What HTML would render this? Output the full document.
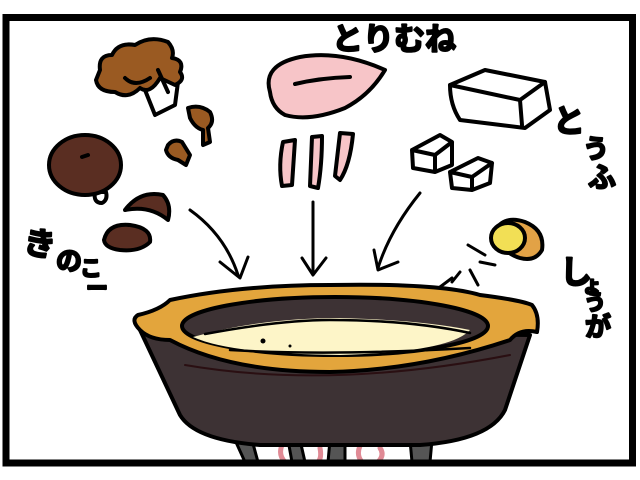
<!DOCTYPE html>
<html><head><meta charset="utf-8"><style>
html,body{margin:0;padding:0;background:#fff;width:640px;height:480px;overflow:hidden}
svg{display:block}
text{font-family:"Liberation Sans","Noto Sans CJK JP",sans-serif;font-weight:bold;fill:#000;stroke:#000;stroke-width:2;stroke-linejoin:round}
</style></head><body>
<svg width="640" height="480" viewBox="0 0 640 480" xmlns="http://www.w3.org/2000/svg">
<rect x="0" y="0" width="640" height="480" fill="#fff"/>
<g stroke="#000" stroke-width="4" stroke-linecap="round" stroke-linejoin="round">
<!-- maitake -->
<path d="M145,90 L155,115 L175,105 L178,82 L165,75 Z" fill="#fff"/>
<path d="M100,70 Q98,55 112,55 Q118,42 135,45 Q150,35 168,42 Q175,50 172,58 Q185,60 180,72 Q186,80 175,85 L160,78 Q150,95 140,88 Q128,100 115,92 Q98,92 96,80 Z" fill="#9a5a22"/>
<path d="M125,78 Q135,88 150,78 M158,70 L168,92" fill="none"/>
<path d="M188,108 Q200,104 210,112 Q215,122 208,128 L210,142 L203,145 L203,130 Q195,128 190,118 Z" fill="#9a5a22"/>
<path d="M168,145 Q174,138 182,142 L190,155 L186,165 L178,160 Q168,158 166,150 Z" fill="#9a5a22"/>
<!-- shiitake -->
<path d="M95,192 Q93,203 102,203 Q108,200 106,192 Z" fill="#fff"/>
<ellipse cx="85" cy="165" rx="36" ry="30" fill="#5a2e22"/>
<path d="M82,157 L88,155" fill="none"/>
<path d="M125,210 Q140,190 163,195 Q172,205 168,220 Q150,205 125,210 Z" fill="#5a2e22"/>
<path d="M104,240 Q108,223 130,225 Q152,228 150,242 Q140,252 120,250 Q105,248 104,240 Z" fill="#5a2e22"/>
<!-- chicken -->
<path d="M270,92 Q262,65 300,57 Q340,50 385,70 Q370,95 345,108 Q310,122 285,115 Q272,108 270,92 Z" fill="#f7c5c8"/>
<path d="M295,84 Q320,78 350,77" fill="none"/>
<path d="M283,142 L295,140 L292,185 L282,186 Q278,165 283,142 Z" fill="#f7c5c8"/>
<path d="M312,137 L322,136 Q322,165 318,188 L310,186 Z" fill="#f7c5c8"/>
<path d="M340,133 L353,134 Q350,165 340,180 L335,176 Z" fill="#f7c5c8"/>
<!-- tofu -->
<path d="M450,85 L485,70 L545,82 L550,110 L525,128 L460,120 Q450,105 450,85 Z" fill="#fff"/>
<path d="M450,85 L520,100 L545,82 M520,100 L522,125" fill="none"/>
<path d="M412,150 L440,135 L452,142 L452,165 L435,172 L413,168 Z M412,150 L435,155 L452,142 M435,155 L435,172" fill="#fff"/>
<path d="M450,172 L478,158 L492,163 L490,183 L472,190 L452,188 Z M450,172 L472,177 L492,163 M472,177 L472,190" fill="#fff"/>
<!-- ginger -->
<path d="M495,230 Q505,215 525,222 Q545,230 542,250 Q535,262 520,258 Q500,252 495,230 Z" fill="#e2a246"/>
<ellipse cx="508" cy="238" rx="17" ry="15" fill="#f2df55"/>
<path d="M468,245 L485,255 M480,262 L495,265 M470,270 L478,285 M452,282 L460,272 M440,287 L452,278" fill="none" stroke-width="3"/>
<!-- arrows -->
<path d="M190,210 Q225,235 238,275 M220,262 L240,278 L248,257" fill="none" stroke-width="3"/>
<path d="M313,202 L313,272 M302,258 L313,275 L326,258" fill="none" stroke-width="3"/>
<path d="M420,193 Q390,230 378,268 M374,250 L378,270 L398,262" fill="none" stroke-width="3"/>
<!-- legs and flames -->
<path d="M235,440 L245,462 L258,462 L252,440 Z M288,440 L292,462 L305,462 L300,440 Z M330,440 L328,462 L345,462 L345,440 Z M410,440 L412,462 L430,462 L432,440 Z" fill="#555" stroke-width="3"/>
<path d="M282,445 Q278,455 285,462 M320,448 Q322,458 318,462 M360,446 Q356,455 362,462 M380,448 Q385,455 378,462" fill="none" stroke="#e08a95" stroke-width="5"/>
<!-- pot body -->
<path d="M140,330 L180,415 Q195,440 260,445 L420,445 Q490,440 505,410 L530,335 Z" fill="#3d3234"/>
<path d="M185,365 Q330,390 510,355" fill="none" stroke="#2a0f12" stroke-width="2"/>
<!-- rim -->
<path d="M140,330 Q130,320 138,315 Q160,310 170,300 Q240,285 330,285 Q440,283 480,295 Q520,300 532,305 Q540,315 537,332 Q520,328 510,340 Q420,370 330,372 Q230,372 170,340 Q150,340 140,330 Z" fill="#e3a53c"/>
<ellipse cx="335" cy="326" rx="153" ry="29" fill="#3d3234"/>
<path d="M193,337 Q260,318 340,318 Q420,320 470,330 Q450,352 340,355 Q230,354 193,337 Z" fill="#fdf5c8" stroke="none"/>
<path d="M205,334 Q280,320 330,320 Q410,320 470,333 M230,350 Q330,356 470,348" fill="none" stroke-width="2.5"/>
<circle cx="263" cy="341" r="2.5" fill="#000" stroke="none"/>
<circle cx="290" cy="346" r="1.5" fill="#000" stroke="none"/>
<!-- frame -->
<rect x="6" y="17.5" width="626.5" height="445.5" fill="none" stroke-width="7" stroke-linejoin="miter"/>
</g>
<g>
<text x="22" y="252" font-size="32" transform="rotate(10 22 252)">き</text>
<text x="56" y="270" font-size="26">の</text>
<text x="80" y="276" font-size="22">こ</text>
<text x="86" y="296" font-size="22">ー</text>
<text x="332" y="50" font-size="31">とりむね</text>
<text x="553" y="132" font-size="32">と</text>
<text x="583" y="158" font-size="26">う</text>
<text x="588" y="187" font-size="28">ふ</text>
<text x="560" y="283" font-size="32">し</text>
<text x="582" y="292" font-size="20">ょ</text>
<text x="584" y="310" font-size="22">う</text>
<text x="585" y="336" font-size="26">が</text>
</g>
</svg>
</body></html>
